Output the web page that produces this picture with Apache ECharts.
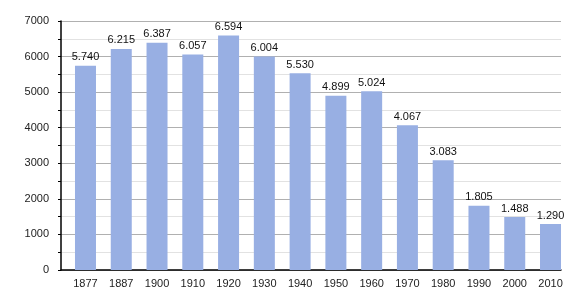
<!DOCTYPE html>
<html><head><meta charset="utf-8">
<script src="https://cdn.jsdelivr.net/npm/echarts@6/dist/echarts.min.js"></script>
<style>html,body{margin:0;padding:0;background:#fff}#c{width:580px;height:300px}</style>
</head><body><div id="c"></div>
<script>
const years = ['1877','1887','1900','1910','1920','1930','1940','1950','1960','1970','1980','1990','2000','2010'];
const population = [5740,6215,6387,6057,6594,6004,5530,4899,5024,4067,3083,1805,1488,1290];
const yTicks = [0,1000,2000,3000,4000,5000,6000,7000];

const chart = echarts.init(document.getElementById('c'), null, {renderer:'canvas'});
const fmt = v => { const s = String(v); return s.length > 3 ? s.slice(0, s.length-3) + '.' + s.slice(-3) : s; };
const FONT = 'Liberation Sans, Arial, sans-serif';
const yMin = yTicks[0], yMax = yTicks[yTicks.length-1];
chart.setOption({
  animation:false,
  grid:[
    {left:61,right:19,top:21,bottom:30},
    {left:67.6,right:11.6,top:21,bottom:30}
  ],
  xAxis:[
    {gridIndex:0,type:'value',min:0,max:1,
      axisLine:{show:true,lineStyle:{color:'#000',width:1.5}},
      axisTick:{show:false},axisLabel:{show:false},splitLine:{show:false}},
    {gridIndex:1,type:'category',data:years,
      axisLine:{show:false},axisTick:{show:false},
      axisLabel:{color:'#222',fontSize:11,fontFamily:FONT,margin:8}}
  ],
  yAxis:[
    {gridIndex:0,type:'value',min:yMin,max:yMax,interval:1000,
      axisLine:{show:true,lineStyle:{color:'#000',width:1.5}},
      axisTick:{show:true,inside:false,length:3,lineStyle:{color:'#000'}},
      minorTick:{show:true,splitNumber:2,length:3,lineStyle:{color:'#000'}},
      minorSplitLine:{show:true,lineStyle:{color:'#e2e2e2'}},
      splitLine:{lineStyle:{color:'#b0b0b0'}},
      axisLabel:{color:'#222',fontSize:11,fontFamily:FONT,margin:12,formatter:v=>String(v)}},
    {gridIndex:1,type:'value',min:yMin,max:yMax,show:false,splitLine:{show:false}}
  ],
  series:[{type:'bar',xAxisIndex:1,yAxisIndex:1,data:population,barWidth:21,
    itemStyle:{color:'#98afe3'},
    label:{show:true,position:'top',distance:3,color:'#111',fontSize:11,fontFamily:FONT,
      formatter:p=>fmt(p.value)}}]
});
</script></body></html>
